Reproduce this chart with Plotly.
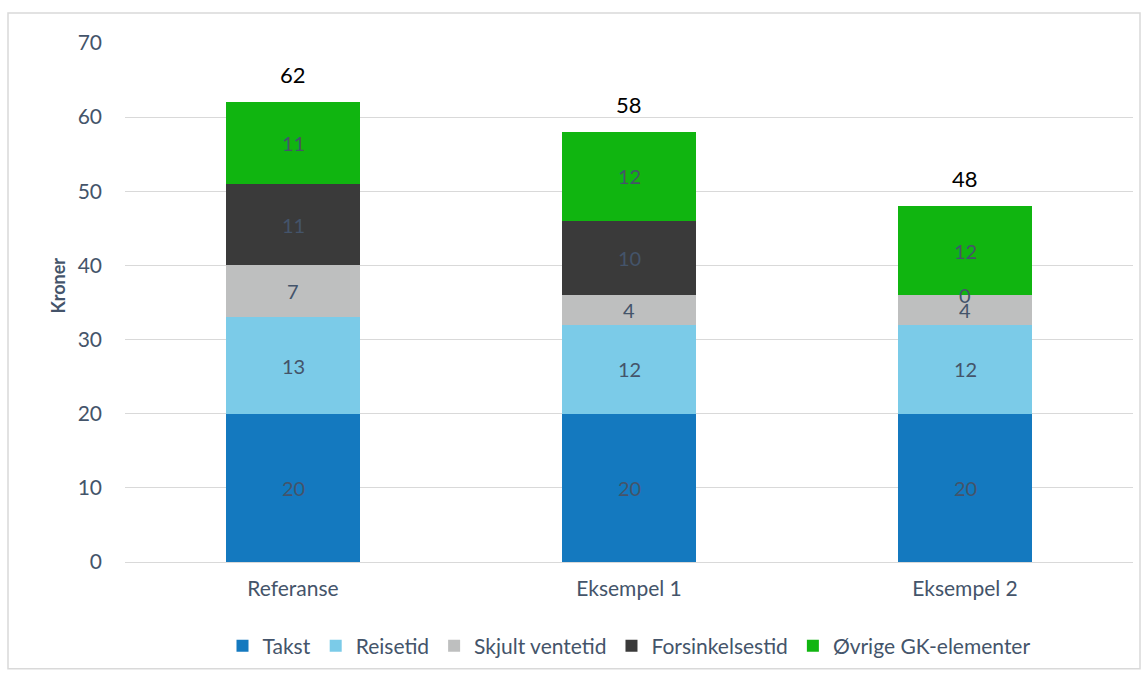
import plotly.graph_objects as go

categories = ["Referanse", "Eksempel 1", "Eksempel 2"]
series_names = ["Takst", "Reisetid", "Skjult ventetid", "Forsinkelsestid", "Øvrige GK-elementer"]
takst = [20, 20, 20]
reisetid = [13, 12, 12]
skjult_ventetid = [7, 4, 4]
forsinkelsestid = [11, 10, 0]
ovrige = [11, 12, 12]
totals = [62, 58, 48]
y_ticks = [0, 10, 20, 30, 40, 50, 60, 70]

series_values = [takst, reisetid, skjult_ventetid, forsinkelsestid, ovrige]
colors = ["#1479BF", "#7BCBE8", "#BEBFBF", "#3A3A3A", "#10B510"]

FONT = "Lato, Open Sans, sans-serif"
LABEL_COLOR = "#44546A"

fig = go.Figure()
for name, vals, col in zip(series_names, series_values, colors):
    fig.add_trace(go.Bar(
        x=categories, y=vals, name=name,
        marker=dict(color=col, line=dict(width=0)),
        hoverinfo="x+y+name",
    ))

# segment labels at centre of each segment
annotations = []
base = [0] * len(categories)
for vals in series_values:
    for i, (c, v) in enumerate(zip(categories, vals)):
        annotations.append(dict(
            x=c, y=base[i] + v / 2, text=str(v), showarrow=False,
            xref="x", yref="y",
            font=dict(family=FONT, size=20, color=LABEL_COLOR),
        ))
        base[i] += v

# totals
for c, t in zip(categories, totals):
    annotations.append(dict(
        x=c, y=t, text=str(t), showarrow=False, xref="x", yref="y",
        yanchor="bottom", yshift=12,
        font=dict(family=FONT, size=22, color="#000000"),
    ))

L, R, T, B = 125, 15, 43, 114
W, H = 1148, 677
pw, ph = W - L - R, H - T - B

# y-axis title as annotation (placed like the reference)
annotations.append(dict(
    text="<b>Kroner</b>", xref="paper", yref="paper",
    x=(58 - L) / pw, y=(563 - 286) / ph, xanchor="center", yanchor="middle",
    textangle=-90, showarrow=False,
    font=dict(family=FONT, size=18, color=LABEL_COLOR),
))

fig.update_layout(
    barmode="stack",
    bargap=0.6,
    width=W, height=H,
    margin=dict(l=L, r=R, t=T, b=B),
    plot_bgcolor="white",
    paper_bgcolor="white",
    font=dict(family=FONT, size=20, color=LABEL_COLOR),
    showlegend=True,
    legend=dict(
        orientation="h", x=0.5, xanchor="center",
        y=(563 - 646) / ph, yanchor="middle",
        font=dict(family=FONT, size=21, color=LABEL_COLOR),
        traceorder="normal", itemwidth=30,
    ),
    xaxis=dict(
        showgrid=False, showline=True, linecolor="#D9D9D9", linewidth=1,
        ticks="", ticklabelstandoff=8,
        tickfont=dict(family=FONT, size=21, color=LABEL_COLOR),
    ),
    yaxis=dict(
        range=[0, 70], tickvals=y_ticks,
        showgrid=True, gridcolor="#D9D9D9", gridwidth=1,
        zeroline=False, showline=False, ticks="",
        ticklabelstandoff=22,
        tickfont=dict(family=FONT, size=21, color=LABEL_COLOR),
    ),
    annotations=annotations,
    shapes=[dict(
        type="rect", xref="paper", yref="paper",
        x0=(8 - L) / pw, x1=(1140 - L) / pw,
        y0=(563 - 670) / ph, y1=(563 - 13) / ph,
        line=dict(color="#D9D9D9", width=1.5), fillcolor="rgba(0,0,0,0)",
        layer="below",
    )],
)

fig.write_html("out.html")
